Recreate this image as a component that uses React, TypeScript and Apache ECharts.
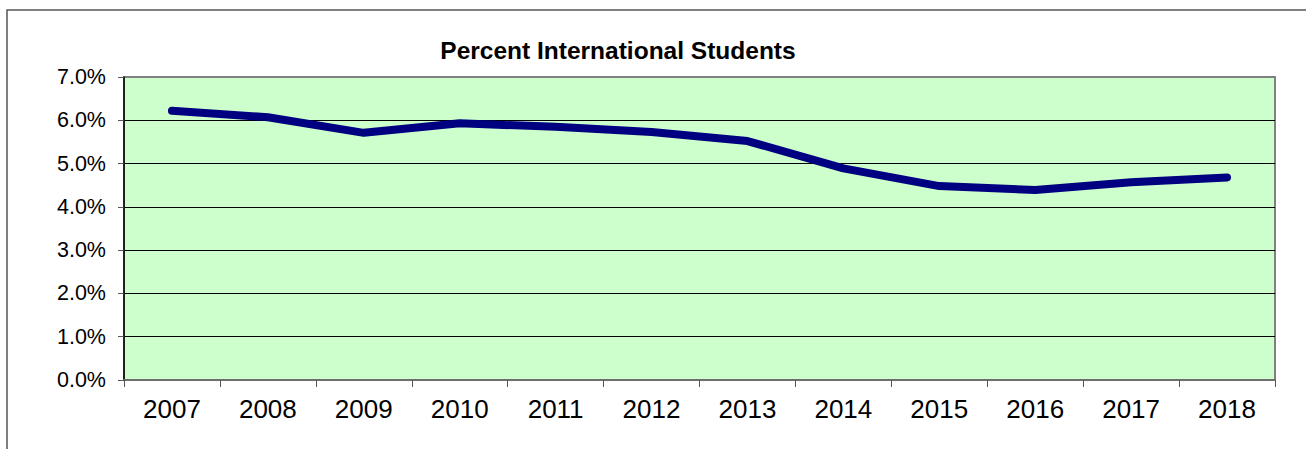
import React, { useEffect, useRef } from "react";
import * as echarts from "echarts";

const years = ["2007", "2008", "2009", "2010", "2011", "2012", "2013", "2014", "2015", "2016", "2017", "2018"];
const pctInternational = [6.22, 6.07, 5.71, 5.93, 5.85, 5.73, 5.52, 4.89, 4.48, 4.39, 4.57, 4.68];
const titleText = "Percent International Students";

export default function App() {
  const ref = useRef<HTMLDivElement>(null);
  useEffect(() => {
    if (!ref.current) return;
    const chart = echarts.init(ref.current, null, { renderer: "svg" });
    chart.setOption({
      animation: false,
      backgroundColor: "#ffffff",
      textStyle: { fontFamily: "Liberation Sans, Arial, sans-serif" },
      graphic: [
        {
          type: "rect",
          shape: { x: 7, y: 10, width: 1320, height: 460 },
          style: { fill: "none", stroke: "#555555", lineWidth: 1.5 },
          z: 100,
        },
        {
          type: "text",
          x: 618,
          y: 50,
          style: {
            text: titleText,
            fill: "#000000",
            font: "bold 24.5px 'Liberation Sans', Arial, sans-serif",
            textAlign: "center",
            textVerticalAlign: "middle",
          },
        },
      ],
      grid: {
        left: 124,
        top: 77,
        right: 31,
        bottom: 69,
        show: true,
        backgroundColor: "#CCFFCC",
        borderColor: "#808080",
        borderWidth: 2,
      },
      xAxis: {
        type: "category",
        data: years,
        boundaryGap: true,
        axisLine: { lineStyle: { color: "#6e6e6e", width: 2 } },
        axisTick: { show: true, length: 7, lineStyle: { color: "#555555", width: 1 } },
        axisLabel: { color: "#000000", fontSize: 26, margin: 16, fontFamily: "Liberation Sans, Arial, sans-serif" },
        splitLine: { show: false },
      },
      yAxis: {
        type: "value",
        min: 0,
        max: 7,
        interval: 1,
        axisLine: { show: true, lineStyle: { color: "#000000", width: 1.5 } },
        axisTick: { show: true, length: 6, lineStyle: { color: "#555555", width: 1 } },
        axisLabel: {
          color: "#000000",
          fontSize: 21.5,
          margin: 18,
          fontFamily: "Liberation Sans, Arial, sans-serif",
          formatter: (v: number) => v.toFixed(1) + "%",
        },
        splitLine: {
          show: true,
          lineStyle: {
            color: ["#808080", "#000000", "#000000", "#000000", "#000000", "#000000", "#000000", "#808080"],
            width: 1,
          },
        },
      },
      series: [
        {
          type: "line",
          data: pctInternational,
          symbol: "none",
          lineStyle: { color: "#000080", width: 8, cap: "round", join: "round" },
          z: 5,
        },
      ],
    });
    return () => chart.dispose();
  }, []);
  return (
    <div
      ref={ref}
      style={{ position: "absolute", left: 0, top: 0, width: 1306, height: 449 }}
    />
  );
}
